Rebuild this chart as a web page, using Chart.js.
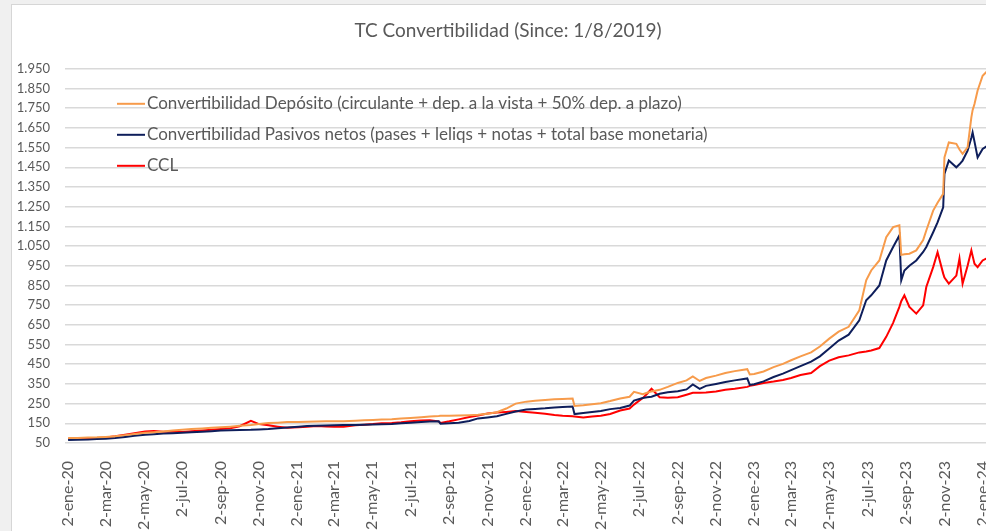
<!DOCTYPE html>
<html>
<head>
<meta charset="utf-8">
<script src="https://cdn.jsdelivr.net/npm/chart.js@4.4.1/dist/chart.umd.min.js"></script>
<style>
  html, body { margin: 0; padding: 0; background: #f0f0f0; overflow: hidden; }
  #box {
    position: absolute; left: 11px; top: 4px;
    width: 1000px; height: 540px;
    background: #fff; border: 1px solid #d6d6d6;
  }
</style>
</head>
<body>
<div id="box"><canvas id="chart"></canvas></div>
<script>
const dates = [
  '2020-01-02','2020-01-17','2020-02-03','2020-02-17','2020-03-02','2020-03-17','2020-04-02','2020-04-17',
  '2020-05-04','2020-05-18','2020-06-02','2020-06-17','2020-07-02','2020-07-17','2020-08-03','2020-08-18',
  '2020-09-02','2020-09-17','2020-10-02','2020-10-20','2020-11-02','2020-11-17','2020-12-02','2020-12-17',
  '2021-01-04','2021-01-18','2021-02-02','2021-02-17','2021-03-02','2021-03-17','2021-04-05','2021-04-19',
  '2021-05-03','2021-05-17','2021-06-02','2021-06-17','2021-07-02','2021-07-19','2021-08-02','2021-08-16',
  '2021-08-19','2021-09-02','2021-09-17','2021-10-04','2021-10-18','2021-11-02','2021-11-17','2021-12-02',
  '2021-12-17','2022-01-03','2022-01-17','2022-02-02','2022-02-17','2022-03-02','2022-03-18','2022-03-21',
  '2022-04-04','2022-04-18','2022-05-02','2022-05-17','2022-06-02','2022-06-17','2022-06-24','2022-07-08',
  '2022-07-15','2022-07-22','2022-08-04','2022-08-17','2022-09-02','2022-09-16','2022-09-26','2022-10-07',
  '2022-10-17','2022-11-02','2022-11-17','2022-12-02','2022-12-22','2022-12-26','2023-01-02','2023-01-17',
  '2023-02-02','2023-02-17','2023-03-02','2023-03-17','2023-04-03','2023-04-17','2023-05-02','2023-05-17',
  '2023-06-02','2023-06-19','2023-06-30','2023-07-08','2023-07-21','2023-08-01','2023-08-12','2023-08-22',
  '2023-08-25','2023-08-30','2023-09-07','2023-09-18','2023-09-29','2023-10-04','2023-10-15','2023-10-22',
  '2023-10-31','2023-11-02','2023-11-09','2023-11-21','2023-11-26','2023-12-01','2023-12-09','2023-12-15',
  '2023-12-17','2023-12-20','2023-12-25','2024-01-02','2024-01-10'
];

// Convertibilidad Depósito
const depositos = [
  75, 76, 78, 79, 81, 84, 90, 96,
  102, 105, 109, 113, 117, 121, 124, 127,
  130, 133, 137, 142, 147, 151, 153, 156,
  157, 158, 159, 160, 160, 161, 163, 165,
  167, 169, 171, 174, 177, 181, 184, 187,
  188, 188, 189, 191, 193, 199, 206, 225,
  250, 260, 264, 268, 272, 274, 276, 238,
  242, 247, 252, 263, 276, 285, 310, 298,
  305, 312, 320, 335, 355, 368, 388, 365,
  380, 392, 405, 415, 425, 398, 400, 413,
  435, 452, 470, 490, 510, 540, 580, 615,
  640, 724, 876, 926, 977, 1095, 1146, 1155,
  1005, 1008, 1011, 1028, 1080, 1129, 1230, 1270,
  1315, 1500, 1576, 1569, 1540, 1518, 1551, 1703,
  1740, 1771, 1840, 1915, 1940
];

// Convertibilidad Pasivos netos
const pasivos = [
  65, 66, 68, 70, 72, 75, 81, 87,
  92, 95, 98, 100, 102, 104, 107, 110,
  113, 115, 116, 117, 119, 121, 125, 129,
  133, 136, 138, 139, 140, 141, 142, 143,
  144, 145, 147, 150, 153, 157, 159, 160,
  148, 150, 153, 162, 175, 180, 186, 198,
  210, 220, 223, 226, 230, 233, 235, 197,
  202, 207, 212, 222, 228, 240, 265, 278,
  282, 285, 300, 308, 313, 322, 347, 325,
  340, 350, 360, 368, 378, 345, 348, 363,
  385, 402, 420, 440, 463, 490, 530, 570,
  600, 673, 775, 800, 850, 977, 1045, 1104,
  876, 926, 950, 977, 1020, 1045, 1120, 1170,
  1247, 1416, 1484, 1450, 1465, 1484, 1534, 1600,
  1627, 1580, 1500, 1543, 1560
];

// CCL
const ccl = [
  70, 71, 74, 76, 78, 84, 92, 100,
  108, 111, 107, 109, 106, 110, 114, 117,
  121, 125, 135, 163, 146, 140, 133, 127,
  130, 133, 136, 134, 132, 133, 140, 143,
  146, 150, 152, 155, 160, 164, 166, 160,
  152, 160, 170, 182, 190, 200, 205, 208,
  212, 207, 203, 198, 192, 188, 186, 184,
  180, 184, 188, 197, 215, 225, 245, 278,
  300, 325, 282, 280, 282, 295, 305, 305,
  307, 312, 320, 325, 335, 340, 345, 355,
  362, 370, 380, 395, 405, 440, 468, 485,
  495, 510, 515, 520, 532, 589, 660, 741,
  770, 800, 741, 707, 749, 842, 943, 1019,
  910, 890, 859, 900, 986, 859, 950, 1028,
  1000, 960, 943, 977, 990
];

const tickDates = [
  '2020-01-02','2020-03-02','2020-05-02','2020-07-02','2020-09-02','2020-11-02',
  '2021-01-02','2021-03-02','2021-05-02','2021-07-02','2021-09-02','2021-11-02',
  '2022-01-02','2022-03-02','2022-05-02','2022-07-02','2022-09-02','2022-11-02',
  '2023-01-02','2023-03-02','2023-05-02','2023-07-02','2023-09-02','2023-11-02',
  '2024-01-02'
];
const monthNames = ['ene','feb','mar','abr','may','jun','jul','ago','sep','oct','nov','dic'];

const seriesNames = [
  'Convertibilidad Depósito (circulante + dep. a la vista + 50% dep. a plazo)',
  'Convertibilidad Pasivos netos (pases + leliqs + notas + total base monetaria)',
  'CCL'
];
const seriesColors = ['#F79B4B', '#0E1E5B', '#FF0000'];

const DAY = 86400000;
const origin = Date.parse('2020-01-02');
function toDay(d) { return Math.round((Date.parse(d) - origin) / DAY); }
function dayLabel(v) {
  const d = new Date(origin + v * DAY);
  return d.getUTCDate() + '-' + monthNames[d.getUTCMonth()] + '-' + String(d.getUTCFullYear()).slice(2);
}
function fmt(v) { return String(v).replace(/\B(?=(\d{3})+(?!\d))/g, '.'); }

const tickDays = tickDates.map(toDay);
const txt = '#595959';
const font = 'Lato';

function points(values) {
  return values.map((v, i) => ({ x: toDay(dates[i]), y: v }));
}

// legend drawn inside the plot, like the original
const legendBox = {
  id: 'legendBox',
  afterDatasetsDraw(chart) {
    const ctx = chart.ctx;
    const a = chart.chartArea;
    const x0 = a.left + 52;
    const y0 = a.top + 35;
    ctx.save();
    ctx.font = '17px ' + font;
    ctx.textBaseline = 'middle';
    seriesNames.forEach((name, i) => {
      const y = y0 + i * 31;
      ctx.strokeStyle = seriesColors[i];
      ctx.lineWidth = 2;
      ctx.beginPath();
      ctx.moveTo(x0, y);
      ctx.lineTo(x0 + 28, y);
      ctx.stroke();
      ctx.fillStyle = txt;
      ctx.fillText(name, x0 + 30, y);
    });
    ctx.restore();
  }
};

new Chart(document.getElementById('chart'), {
  type: 'line',
  data: {
    datasets: [
      { label: seriesNames[0], data: points(depositos), borderColor: seriesColors[0] },
      { label: seriesNames[1], data: points(pasivos), borderColor: seriesColors[1] },
      { label: seriesNames[2], data: points(ccl), borderColor: seriesColors[2] }
    ]
  },
  options: {
    responsive: true,
    maintainAspectRatio: false,
    animation: false,
    layout: { padding: { left: 5, right: 13, top: 0, bottom: 0 } },
    elements: {
      point: { radius: 0 },
      line: { borderWidth: 2, tension: 0 }
    },
    plugins: {
      legend: { display: false },
      tooltip: { enabled: false },
      title: {
        display: true,
        text: 'TC Convertibilidad (Since: 1/8/2019)',
        color: txt,
        font: { family: font, size: 19, weight: 'normal' },
        padding: { top: 14, bottom: 27 }
      }
    },
    scales: {
      x: {
        type: 'linear',
        min: -5,
        max: 1481,
        grid: { display: false },
        border: { display: false },
        afterBuildTicks: (scale) => { scale.ticks = tickDays.map(v => ({ value: v })); },
        afterFit: (scale) => { scale.height = 102; },
        ticks: {
          autoSkip: false,
          minRotation: 90,
          maxRotation: 90,
          padding: 10,
          color: txt,
          font: { family: font, size: 16 },
          callback: (v) => dayLabel(v)
        }
      },
      y: {
        min: 50,
        max: 1950,
        grid: { color: '#d9d9d9', lineWidth: 1.5, drawTicks: false },
        border: { display: false },
        afterFit: (scale) => { scale.width = 48; },
        ticks: {
          stepSize: 100,
          padding: 15,
          color: txt,
          font: { family: font, size: 13 },
          callback: (v) => fmt(v)
        }
      }
    }
  },
  plugins: [legendBox]
});
</script>
</body>
</html>
